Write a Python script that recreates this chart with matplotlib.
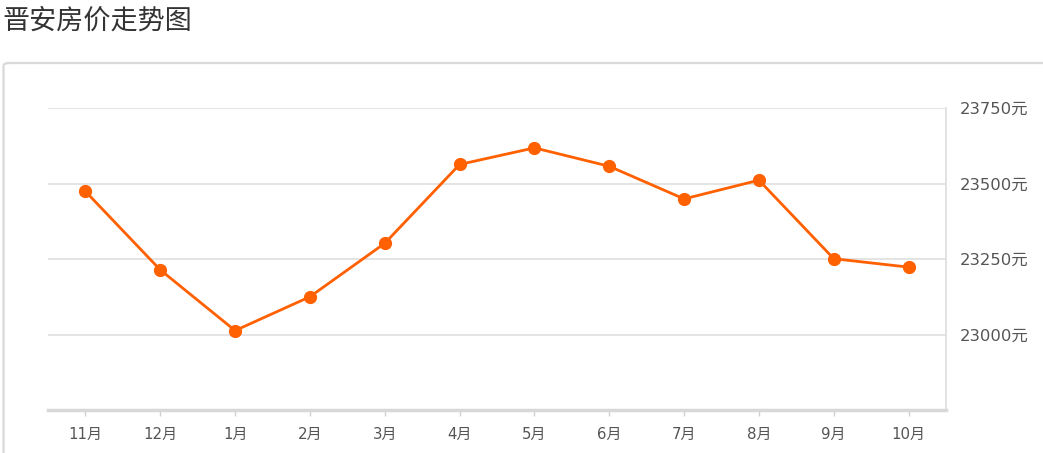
import matplotlib
matplotlib.use("Agg")
import matplotlib.pyplot as plt
from matplotlib.patches import FancyBboxPatch

plt.rcParams['font.family'] = ['Noto Sans CJK SC', 'DejaVu Sans']

title = "晋安房价走势图"
months = ["11月", "12月", "1月", "2月", "3月", "4月", "5月", "6月", "7月", "8月", "9月", "10月"]
prices = [23474, 23214, 23013, 23125, 23302, 23563, 23618, 23557, 23449, 23511, 23251, 23223]
yticks = [23000, 23250, 23500, 23750]
ytick_labels = ["23000元", "23250元", "23500元", "23750元"]

W, H = 1043, 453
fig = plt.figure(figsize=(W / 100, H / 100), dpi=100)

# outer rounded box
box = FancyBboxPatch((3.5 / W, -20 / H), (W + 20) / W, (H - 63 + 20) / H,
                     boxstyle="round,pad=0,rounding_size=0.006",
                     transform=fig.transFigure, facecolor="none",
                     edgecolor="#d9d9d9", linewidth=1.6, zorder=-5)
fig.patches.append(box)

fig.text(2 / W, 1 - 21 / H, title, fontsize=19.5, color="#333333", va="center", ha="left")

ax = fig.add_axes([48 / W, 43 / H, (946 - 48) / W, (410 - 108) / H])
ax.set_zorder(5)
ax.set_facecolor("none")
x = list(range(len(months)))
ax.plot(x, prices, color="#ff6000", linewidth=2.0, marker="o", markersize=8.5,
        markerfacecolor="#ff6000", markeredgecolor="#ff6000", zorder=3, clip_on=False)

tick_family = ['DejaVu Sans', 'Noto Sans CJK SC']
ax.set_xlim(-0.5, len(months) - 0.5)
ax.set_ylim(22750, 23750)
ax.set_xticks(x)
ax.set_xticklabels(months, fontsize=10.8, color="#555555", family=tick_family)
ax.set_yticks(yticks)
ax.set_yticklabels(ytick_labels, fontsize=11.8, color="#555555", family=tick_family)
ax.yaxis.tick_right()
ax.tick_params(axis="y", length=0, pad=10)
ax.tick_params(axis="x", length=4, width=1, color="#d0d0d0", pad=8)
ax.grid(axis="y", color="#dcdcdc", linewidth=1.1)
ax.set_axisbelow(True)

for s in ["top", "left"]:
    ax.spines[s].set_visible(False)
ax.spines["right"].set_color("#dddddd")
ax.spines["right"].set_linewidth(1.2)
ax.spines["bottom"].set_color("#d8d8d8")
ax.spines["bottom"].set_linewidth(2.5)

fig.savefig("out.png", dpi=100)
